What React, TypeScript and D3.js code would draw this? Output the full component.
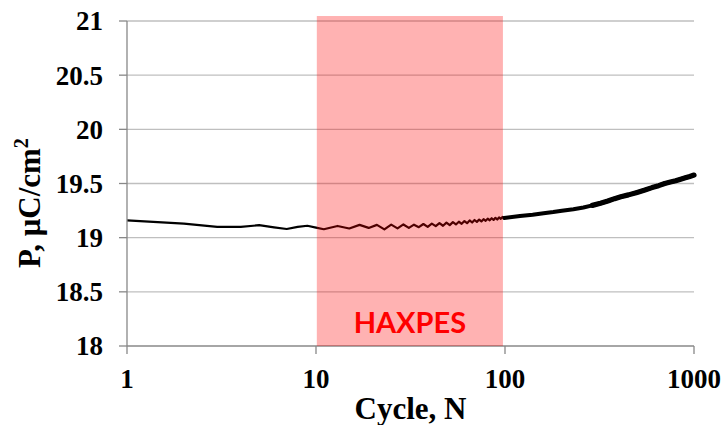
import { useEffect, useRef } from "react";
import * as d3 from "d3";

// cycles 1..10, read point by point
const earlyCycles = [1, 2, 3, 4, 5, 6, 7, 8, 9, 10];
const earlyP = [19.16, 19.13, 19.1, 19.1, 19.115, 19.095, 19.08, 19.1, 19.11, 19.093];

// 11..99, odd cycles (peaks / troughs of the wiggle)
const midCycles = [
  11, 13, 15, 17, 19, 21, 23, 25, 27, 29, 31, 33, 35, 37, 39, 41, 43, 45, 47, 49, 51, 53, 55,
  57, 59, 61, 63, 65, 67, 69, 71, 73, 75, 77, 79, 81, 83, 85, 87, 89, 91, 93, 95, 97, 99,
];
const midP = [
  19.078, 19.108, 19.085, 19.118, 19.09, 19.118, 19.076, 19.12, 19.086, 19.122, 19.09, 19.12,
  19.097, 19.126, 19.1, 19.129, 19.106, 19.135, 19.11, 19.139, 19.116, 19.143, 19.122, 19.147,
  19.128, 19.153, 19.134, 19.159, 19.14, 19.163, 19.146, 19.167, 19.15, 19.171, 19.156, 19.175,
  19.16, 19.179, 19.164, 19.183, 19.168, 19.187, 19.174, 19.191, 19.182,
];

// 100..1000, the noisy thick part
const lateCycles = [
  99, 120, 140, 160, 180, 200, 230, 260, 290, 320, 350, 380, 410, 450, 500, 550, 600, 650, 700,
  750, 800, 850, 900, 950, 1000,
];
const lateP = [
  19.182, 19.2, 19.212, 19.225, 19.236, 19.248, 19.262, 19.278, 19.298, 19.318, 19.338, 19.36,
  19.378, 19.395, 19.418, 19.44, 19.462, 19.48, 19.5, 19.513, 19.525, 19.54, 19.553, 19.565,
  19.578,
];

const xTicks = [1, 10, 100, 1000];
const yTicks = [18, 18.5, 19, 19.5, 20, 20.5, 21];
const haxpesRange = [10.1, 97.5];

const App = () => {
  const svgRef = useRef<SVGSVGElement>(null);

  useEffect(() => {
    const svg = d3.select(svgRef.current);
    svg.selectAll("*").remove();

    const x = d3.scaleLog().domain([1, 1000]).range([127, 694]);
    const y = d3.scaleLinear().domain([18, 21]).range([346, 21]);
    const serif = "'Liberation Serif', 'Times New Roman', serif";

    // gridlines
    svg
      .append("g")
      .selectAll("line")
      .data(yTicks.filter((d) => d > 18))
      .enter()
      .append("line")
      .attr("x1", x(1))
      .attr("x2", x(1000))
      .attr("y1", (d) => y(d))
      .attr("y2", (d) => y(d))
      .attr("stroke", "#bfbfbf")
      .attr("stroke-width", 1.3);

    const line = d3
      .line<[number, number]>()
      .x((d) => x(d[0]))
      .y((d) => y(d[1]));

    const first: [number, number][] = earlyCycles
      .map((c, i) => [c, earlyP[i]] as [number, number])
      .concat(midCycles.map((c, i) => [c, midP[i]] as [number, number]));
    const last: [number, number][] = lateCycles.map((c, i) => [c, lateP[i]]);

    svg
      .append("path")
      .attr("d", line(first))
      .attr("fill", "none")
      .attr("stroke", "#000")
      .attr("stroke-width", 2.2)
      .attr("stroke-linejoin", "round");

    // noisy part: a thinner segment, then thicker from ~300 on
    svg
      .append("path")
      .attr("d", line(last))
      .attr("fill", "none")
      .attr("stroke", "#000")
      .attr("stroke-width", 4)
      .attr("stroke-linejoin", "round")
      .attr("stroke-linecap", "round");
    svg
      .append("path")
      .attr("d", line(last.filter((d) => d[0] >= 290)))
      .attr("fill", "none")
      .attr("stroke", "#000")
      .attr("stroke-width", 5.2)
      .attr("stroke-linejoin", "round")
      .attr("stroke-linecap", "round");

    // axes
    const axisColor = "#888";
    svg
      .append("line")
      .attr("x1", x(1))
      .attr("x2", x(1))
      .attr("y1", y(21))
      .attr("y2", y(18))
      .attr("stroke", axisColor)
      .attr("stroke-width", 1.3);
    svg
      .append("line")
      .attr("x1", x(1))
      .attr("x2", x(1000))
      .attr("y1", y(18))
      .attr("y2", y(18))
      .attr("stroke", axisColor)
      .attr("stroke-width", 1.3);

    svg
      .append("g")
      .selectAll("line")
      .data(yTicks)
      .enter()
      .append("line")
      .attr("x1", x(1) - 8)
      .attr("x2", x(1))
      .attr("y1", (d) => y(d))
      .attr("y2", (d) => y(d))
      .attr("stroke", axisColor)
      .attr("stroke-width", 1.3);

    svg
      .append("g")
      .selectAll("line")
      .data(xTicks)
      .enter()
      .append("line")
      .attr("x1", (d) => x(d))
      .attr("x2", (d) => x(d))
      .attr("y1", y(18))
      .attr("y2", y(18) + 8)
      .attr("stroke", axisColor)
      .attr("stroke-width", 1.3);

    // HAXPES band, drawn on top with transparency
    svg
      .append("rect")
      .attr("x", x(haxpesRange[0]))
      .attr("width", x(haxpesRange[1]) - x(haxpesRange[0]))
      .attr("y", y(21.046))
      .attr("height", y(18) - y(21.046))
      .attr("fill", "#ff0000")
      .attr("fill-opacity", 0.3);

    svg
      .append("text")
      .attr("x", x(Math.sqrt(haxpesRange[0] * haxpesRange[1])))
      .attr("y", 333)
      .attr("text-anchor", "middle")
      .attr("fill", "#ff0000")
      .style("font-family", "Lato, 'Open Sans', sans-serif")
      .style("font-weight", "bold")
      .style("font-size", "29px")
      .text("HAXPES");

    // tick labels
    svg
      .append("g")
      .selectAll("text")
      .data(yTicks)
      .enter()
      .append("text")
      .attr("x", 103)
      .attr("y", (d) => y(d))
      .attr("dy", "0.35em")
      .attr("text-anchor", "end")
      .style("font-family", serif)
      .style("font-weight", "bold")
      .style("font-size", "27px")
      .text((d) => String(d));

    svg
      .append("g")
      .selectAll("text")
      .data(xTicks)
      .enter()
      .append("text")
      .attr("x", (d) => x(d))
      .attr("y", 388)
      .attr("text-anchor", "middle")
      .style("font-family", serif)
      .style("font-weight", "bold")
      .style("font-size", "27px")
      .text((d) => String(d));

    // axis titles
    svg
      .append("text")
      .attr("x", (x(1) + x(1000)) / 2)
      .attr("y", 419)
      .attr("text-anchor", "middle")
      .style("font-family", serif)
      .style("font-weight", "bold")
      .style("font-size", "31px")
      .text("Cycle, N");

    const yt = svg
      .append("text")
      .attr("transform", "translate(40, 203) rotate(-90)")
      .attr("text-anchor", "middle")
      .style("font-family", serif)
      .style("font-weight", "bold")
      .style("font-size", "31px");
    yt.append("tspan").text("P, μC/cm");
    yt.append("tspan").attr("dy", -12).style("font-size", "20px").text("2");
  }, []);

  return (
    <svg
      ref={svgRef}
      width={725}
      height={425}
      style={{ position: "absolute", left: 0, top: 0, background: "#fff" }}
    />
  );
};

export default App;
